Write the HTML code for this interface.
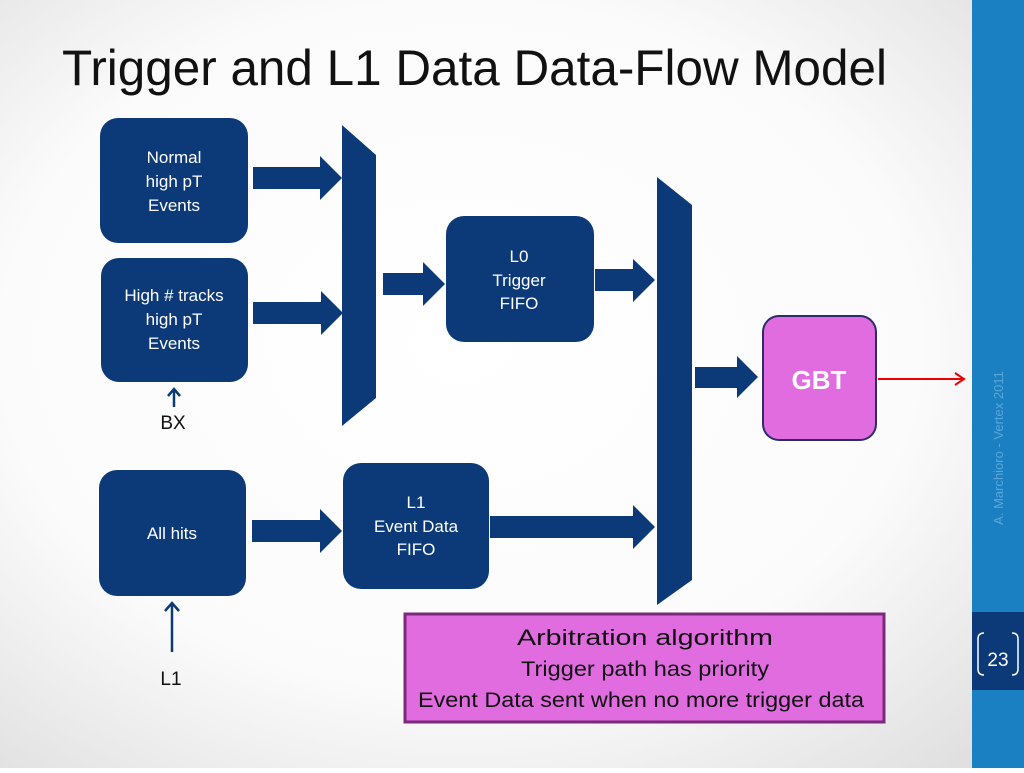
<!DOCTYPE html>
<html><head><meta charset="utf-8"><style>
body{margin:0;width:1024px;height:768px;overflow:hidden;}
</style></head><body>
<svg width="1024" height="768" viewBox="0 0 1024 768" xmlns="http://www.w3.org/2000/svg" font-family="Liberation Sans, sans-serif">
<defs>
<radialGradient id="bg" cx="45%" cy="45%" r="75%">
<stop offset="0" stop-color="#ffffff"/><stop offset="0.6" stop-color="#fbfbfb"/><stop offset="1" stop-color="#dedede"/>
</radialGradient>
</defs>
<rect width="1024" height="768" fill="url(#bg)"/>
<rect x="972" y="0" width="52" height="768" fill="#1b80c1"/>
<rect x="972" y="612" width="52" height="78" fill="#0c3a79"/>
<text x="998" y="666" font-size="19" fill="#fff" text-anchor="middle">23</text>
<path d="M984 633 q-6 0 -6 6 v30 q0 6 6 6" fill="none" stroke="#fff" stroke-width="1.5"/>
<path d="M1012 633 q6 0 6 6 v30 q0 6 -6 6" fill="none" stroke="#fff" stroke-width="1.5"/>
<text transform="translate(1003,448) rotate(-90)" font-size="13" fill="#5aa6d8" text-anchor="middle">A. Marchioro - Vertex 2011</text>

<text x="62" y="85" font-size="50" fill="#111" textLength="825" lengthAdjust="spacingAndGlyphs">Trigger and L1 Data Data-Flow Model</text>

<g fill="#0c3a79">
<rect x="100" y="118" width="148" height="125" rx="18"/>
<rect x="101" y="258" width="147" height="124" rx="18"/>
<rect x="99" y="470" width="147" height="126" rx="18"/>
<rect x="446" y="216" width="148" height="126" rx="18"/>
<rect x="343" y="463" width="146" height="126" rx="18"/>
<polygon points="342,125 376,155 376,398 342,426"/>
<polygon points="657,177 692,205 692,580 657,605"/>
<path d="M253 167 H320 V156 L342 178 L320 200 V189 H253Z"/>
<path d="M253 302 H321 V291 L343 313 L321 335 V324 H253Z"/>
<path d="M383 273 H423 V262 L445 284 L423 306 V295 H383Z"/>
<path d="M595 269 H633 V259 L655 280 L633 302 V291 H595Z"/>
<path d="M252 520 H320 V509 L342 531 L320 553 V542 H252Z"/>
<path d="M490 516 H633 V505 L655 527 L633 549 V538 H490Z"/>
<path d="M695 367 H737 V356 L758 377 L737 398 V388 H695Z"/>
</g>
<g fill="#fff" font-size="17" text-anchor="middle">
<text x="174" y="163">Normal</text><text x="174" y="187">high pT</text><text x="174" y="211">Events</text>
<text x="174" y="301">High # tracks</text><text x="174" y="325">high pT</text><text x="174" y="349">Events</text>
<text x="172" y="539">All hits</text>
<text x="519" y="262">L0</text><text x="519" y="286">Trigger</text><text x="519" y="309">FIFO</text>
<text x="416" y="508">L1</text><text x="416" y="532">Event Data</text><text x="416" y="555">FIFO</text>
</g>
<g stroke="#0c3a79" stroke-width="2.5" fill="none">
<path d="M174 407 V389 M168 396 L174 389 L180 396"/>
<path d="M172 652 V603 M165 611 L172 603 L179 611"/>
</g>
<text x="173" y="429" font-size="19" text-anchor="middle" fill="#111">BX</text>
<text x="171" y="685" font-size="19" text-anchor="middle" fill="#111">L1</text>

<rect x="763" y="316" width="113" height="124" rx="16" fill="#e06ce0" stroke="#2c2c6a" stroke-width="2"/>
<text x="819" y="389" font-size="26" font-weight="bold" fill="#fff" text-anchor="middle">GBT</text>
<path d="M878 379 H963 M955 373 L964 379 L955 385" stroke="#e00" stroke-width="2" fill="none"/>

<rect x="405" y="614" width="479" height="108" fill="#e06ce0" stroke="#7a2a7a" stroke-width="3"/>
<g font-size="21" fill="#111">
<text x="517" y="645" font-size="22" textLength="256" lengthAdjust="spacingAndGlyphs">Arbitration algorithm</text>
<text x="521" y="676" textLength="248" lengthAdjust="spacingAndGlyphs">Trigger path has priority</text>
<text x="418" y="707" textLength="446" lengthAdjust="spacingAndGlyphs">Event Data sent when no more trigger data</text>
</g>
</svg>
</body></html>
